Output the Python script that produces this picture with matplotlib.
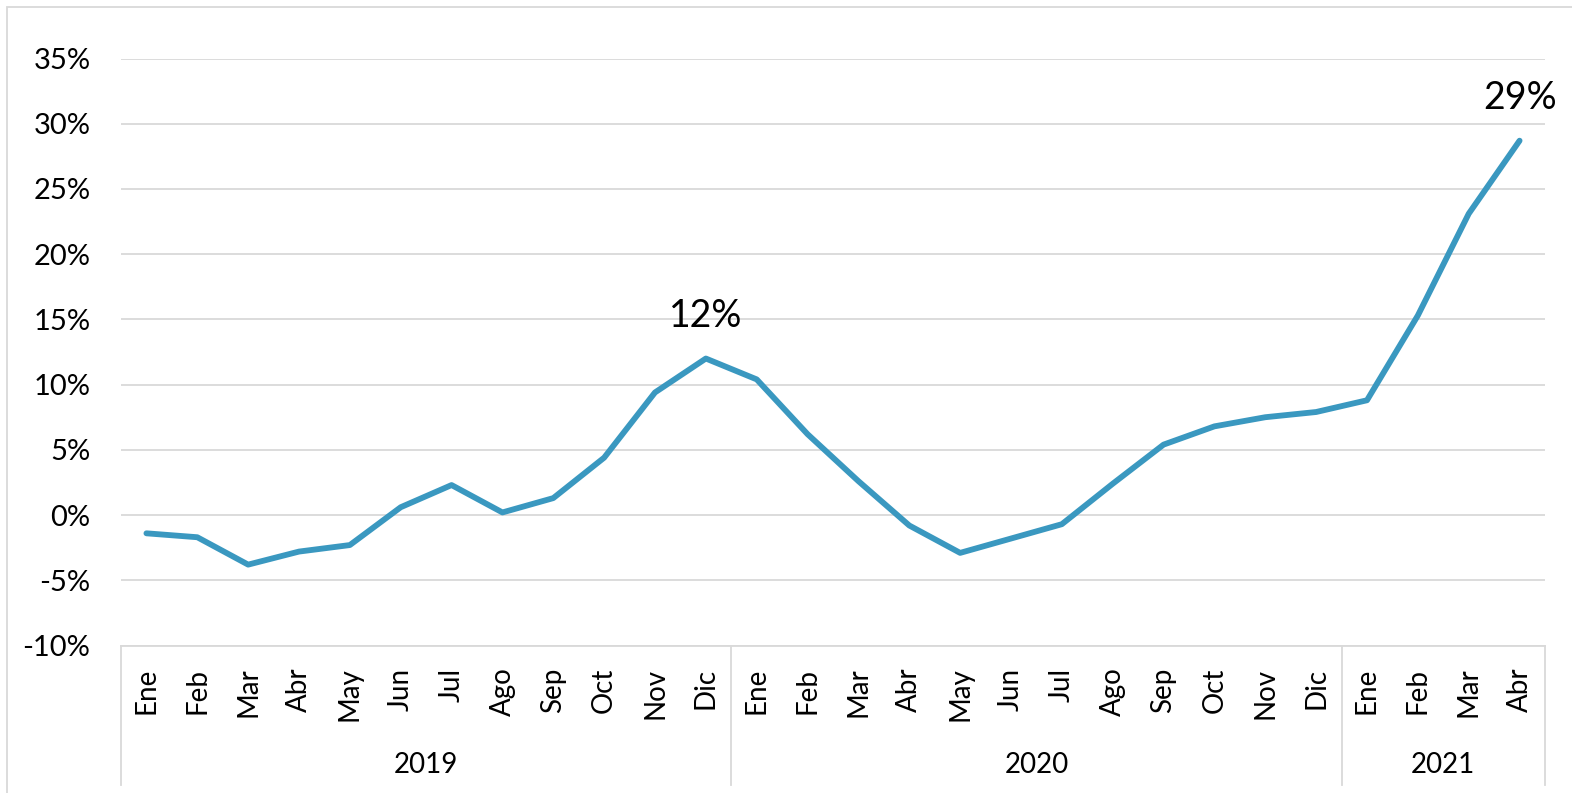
import matplotlib
matplotlib.use("Agg")
import matplotlib.pyplot as plt
import matplotlib.transforms as mtransforms
from matplotlib.patches import Rectangle

# datos
meses = ["Ene", "Feb", "Mar", "Abr", "May", "Jun", "Jul", "Ago", "Sep", "Oct", "Nov", "Dic",
         "Ene", "Feb", "Mar", "Abr", "May", "Jun", "Jul", "Ago", "Sep", "Oct", "Nov", "Dic",
         "Ene", "Feb", "Mar", "Abr"]
anios = ["2019", "2020", "2021"]
meses_por_anio = [12, 12, 4]
valores = [-1.4, -1.7, -3.8, -2.8, -2.3, 0.6, 2.3, 0.2, 1.3, 4.4, 9.4, 12.0,
           10.4, 6.2, 2.6, -0.8, -2.9, -1.8, -0.7, 2.4, 5.4, 6.8, 7.5, 7.9,
           8.8, 15.3, 23.1, 28.7]
etiquetas = {11: "12%", 27: "29%"}

plt.rcParams['font.family'] = ['Lato', 'DejaVu Sans']

fig = plt.figure(figsize=(15.72, 7.93), dpi=100)
ax = fig.add_axes([121 / 1572, 1 - 645.5 / 793, (1545 - 121) / 1572, (645.5 - 58.5) / 793])

x = list(range(len(valores)))
ax.plot(x, valores, color='#3a98c0', lw=4.2, solid_capstyle='round', solid_joinstyle='round', zorder=3)

for i, txt in etiquetas.items():
    ax.annotate(txt, (x[i], valores[i]), xytext=(0, 18), textcoords='offset points',
                ha='center', va='bottom', fontsize=27)

ax.set_xlim(-0.5, len(valores) - 0.5)
ax.set_ylim(-10, 35)
ax.set_yticks(range(-10, 36, 5))
ax.set_yticklabels([f"{v}%" for v in range(-10, 36, 5)], fontsize=21)
ax.yaxis.grid(True, color='#d9d9d9', lw=1.3)
ax.set_axisbelow(True)
ax.tick_params(axis='y', length=0, pad=22)

ax.set_xticks(x)
ax.set_xticklabels(meses, rotation=90, fontsize=20, va='top')
ax.tick_params(axis='x', length=0, pad=16)

for s in ['top', 'right', 'left']:
    ax.spines[s].set_visible(False)
ax.spines['bottom'].set_color('#d9d9d9')
ax.spines['bottom'].set_linewidth(1.3)

# etiquetas de año y separadores
trans = mtransforms.blended_transform_factory(ax.transData, ax.transAxes)
bajo = -(785 - 645.5) / 587
inicio = -0.5
ax.plot([inicio, inicio], [0, bajo], color='#d9d9d9', lw=1.3, transform=trans, clip_on=False)
for anio, n in zip(anios, meses_por_anio):
    fin = inicio + n
    ax.plot([fin, fin], [0, bajo], color='#d9d9d9', lw=1.3, transform=trans, clip_on=False)
    ax.text((inicio + fin) / 2, -(765 - 645.5) / 587, anio, transform=trans,
            ha='center', va='center', fontsize=20)
    inicio = fin

# borde del gráfico
fig.patches.append(Rectangle((7 / 1572, -0.02), 1.02, 1 - 7 / 793 + 0.02, transform=fig.transFigure,
                             fill=False, edgecolor='#d9d9d9', lw=1.3))

fig.savefig("out.png", dpi=100)
